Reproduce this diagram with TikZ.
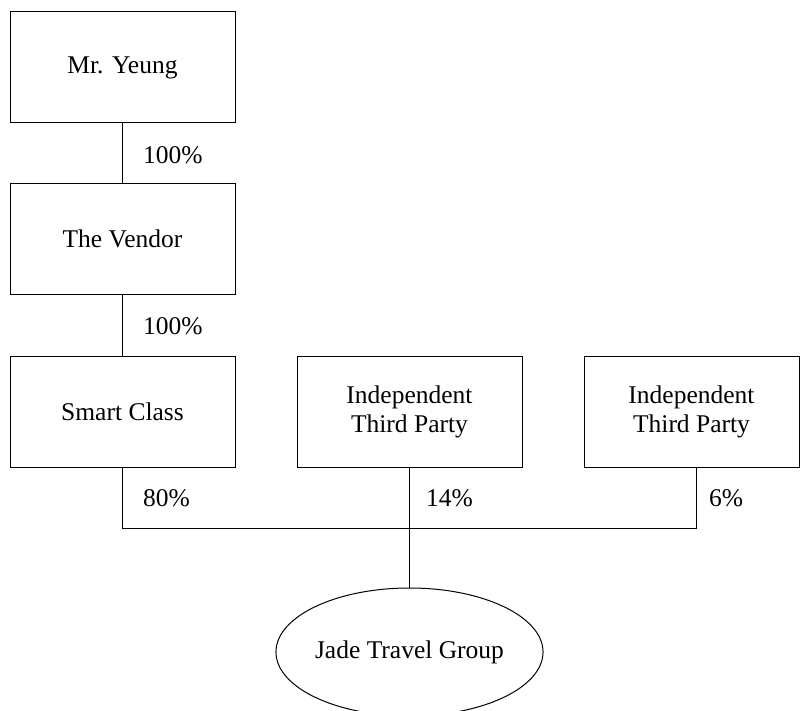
\documentclass[tikz,border=0pt]{standalone}
\usepackage{fontspec}
\setmainfont{Liberation Serif}
\usetikzlibrary{shapes.geometric}
\begin{document}
\begin{tikzpicture}[x=1pt,y=-1pt,
  every node/.style={font=\fontsize{25.5}{28.3}\selectfont},
  orgbox/.style={draw,line width=1pt,minimum width=225pt,minimum height=111pt,inner sep=0pt,align=center},
  pct/.style={anchor=west,inner sep=0pt},
  conn/.style={line width=1pt}]
\useasboundingbox (0,0) rectangle (800,711);
\node[orgbox] (yeung) at (122.5,67.5) {Mr. Yeung};
\node[orgbox] (vendor) at (122.5,239) {The Vendor};
\node[orgbox] (smart) at (122.5,412) {Smart Class};
\node[orgbox] (itp1) at (409.5,412) {Independent\\Third Party};
\node[orgbox,minimum width=215pt] (itp2) at (691.5,412) {Independent\\Third Party};
\node[draw,ellipse,line width=1pt,minimum width=267pt,minimum height=128pt,inner sep=0pt] (jade) at (409.5,652) {Jade Travel Group};
\coordinate (jl) at (122.5,528);
\coordinate (jr) at (696,528);
\draw[conn] (yeung) -- (vendor);
\draw[conn] (vendor) -- (smart);
\draw[conn] (smart.south) -- (jl) -- (jr) -- (itp2.south -| jr);
\draw[conn] (itp1) -- (jade);
\node[pct] (p1) at (143,155) {100\%};
\node[pct] (p2) at (143,326) {100\%};
\node[pct] (p3) at (143,498) {80\%};
\node[pct] (p4) at (426,498) {14\%};
\node[pct] (p5) at (709,498) {6\%};
\end{tikzpicture}
\end{document}
